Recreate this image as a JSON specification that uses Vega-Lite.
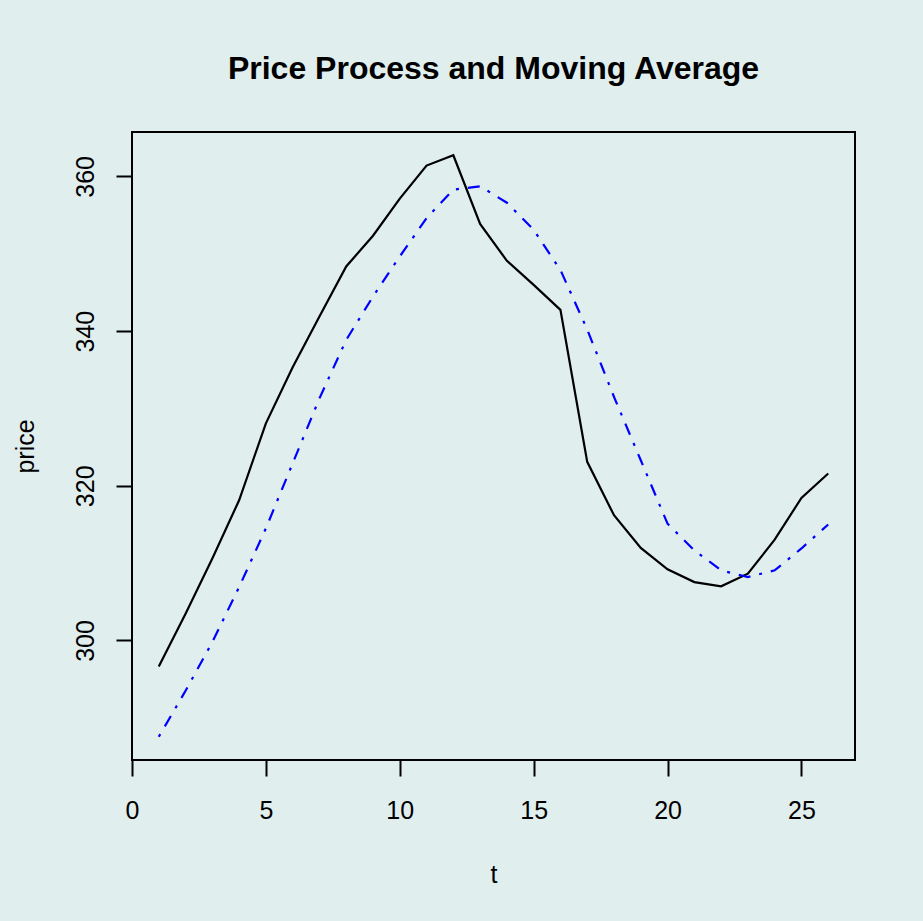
{
  "$schema": "https://vega.github.io/schema/vega-lite/v6.json",
  "autosize": "none",
  "padding": {"left": 132, "top": 132, "right": 68, "bottom": 161},
  "width": 723,
  "height": 628,
  "background": "#E0EEEE",
  "title": {
    "text": "Price Process and Moving Average",
    "font": "Liberation Sans",
    "fontSize": 32,
    "fontWeight": "bold",
    "color": "black",
    "anchor": "middle",
    "baseline": "alphabetic",
    "offset": 21
  },
  "config": {
    "view": {"stroke": "black", "strokeWidth": 2, "fill": "#E0EEEE"},
    "axis": {
      "domain": false,
      "grid": false,
      "ticks": true,
      "tickColor": "black",
      "tickWidth": 2,
      "tickSize": 16,
      "labelFont": "Liberation Sans",
      "labelFontSize": 25,
      "labelColor": "black",
      "labelPadding": 22.5,
      "labelFlush": false,
      "labelOverlap": false,
      "titleFont": "Liberation Sans",
      "titleFontSize": 25,
      "titleFontWeight": "normal",
      "titleColor": "black"
    }
  },
  "data": {
    "values": [
      {"t": 1, "price": 296.63, "ma": 287.56},
      {"t": 2, "price": 303.45, "ma": 293.5},
      {"t": 3, "price": 310.6, "ma": 299.8},
      {"t": 4, "price": 318.13, "ma": 306.9},
      {"t": 5, "price": 328.07, "ma": 314.5},
      {"t": 6, "price": 335.32, "ma": 322.9},
      {"t": 7, "price": 341.9, "ma": 331.3},
      {"t": 8, "price": 348.36, "ma": 338.86},
      {"t": 9, "price": 352.33, "ma": 344.47},
      {"t": 10, "price": 357.12, "ma": 349.65},
      {"t": 11, "price": 361.4, "ma": 354.6},
      {"t": 12, "price": 362.73, "ma": 358.29},
      {"t": 13, "price": 353.85, "ma": 358.72},
      {"t": 14, "price": 349.09, "ma": 356.6},
      {"t": 15, "price": 345.98, "ma": 353.1},
      {"t": 16, "price": 342.75, "ma": 347.9},
      {"t": 17, "price": 323.1, "ma": 340.2},
      {"t": 18, "price": 316.19, "ma": 331.5},
      {"t": 19, "price": 311.96, "ma": 323.3},
      {"t": 20, "price": 309.2, "ma": 315.1},
      {"t": 21, "price": 307.55, "ma": 311.66},
      {"t": 22, "price": 307.0, "ma": 309.07},
      {"t": 23, "price": 308.64, "ma": 308.2},
      {"t": 24, "price": 313.04, "ma": 309.07},
      {"t": 25, "price": 318.43, "ma": 311.9},
      {"t": 26, "price": 321.59, "ma": 315.0}
    ]
  },
  "encoding": {
    "x": {
      "field": "t",
      "type": "quantitative",
      "title": "t",
      "scale": {"domain": [0, 27], "nice": false, "zero": false},
      "axis": {
        "values": [0, 5, 10, 15, 20, 25],
        "format": "d",
        "titleBaseline": "alphabetic",
        "titleY": 122,
        "titleX": 361.5
      }
    }
  },
  "layer": [
    {
      "mark": {"type": "line", "color": "black", "strokeWidth": 2.2},
      "encoding": {
        "y": {
          "field": "price",
          "type": "quantitative",
          "title": "price",
          "scale": {"domain": [284.55, 365.74], "nice": false, "zero": false},
          "axis": {
            "values": [300, 320, 340, 360],
            "format": "d",
            "labelAngle": -90,
            "labelAlign": "center",
            "labelBaseline": "alphabetic",
            "titleAngle": -90,
            "titleAlign": "center",
            "titleBaseline": "alphabetic",
            "titleX": -98.7,
            "titleY": 314
          }
        }
      }
    },
    {
      "mark": {"type": "line", "color": "#0000FF", "strokeWidth": 2.2, "strokeDash": [3, 9, 12, 9]},
      "encoding": {
        "y": {
          "field": "ma",
          "type": "quantitative",
          "title": "price"
        }
      }
    }
  ]
}
